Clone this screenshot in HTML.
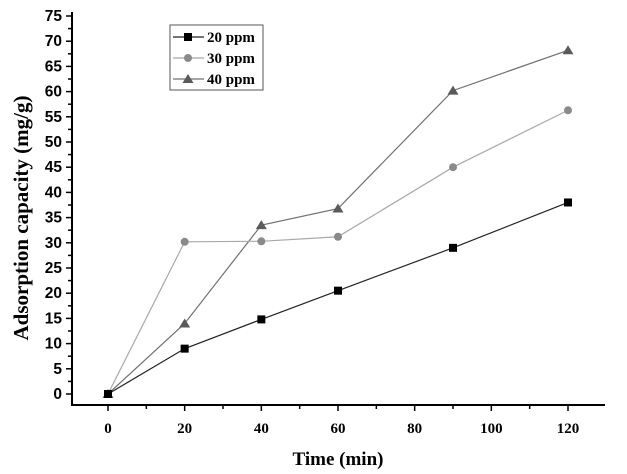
<!DOCTYPE html>
<html><head><meta charset="utf-8"><style>
body{margin:0;background:#fff;width:627px;height:474px;overflow:hidden}
svg{display:block}
</style></head><body>
<svg id="c" width="627" height="474" xmlns="http://www.w3.org/2000/svg"></svg>
<script>
const xValues=[0,20,40,60,90,120];
const s20=[0,9,14.8,20.5,29,38];
const s30=[0,30.2,30.3,31.2,45,56.3];
const s40=[0,14,33.5,36.8,60.2,68.2];
const xTicks=[0,20,40,60,80,100,120];
const yTicks=[0,5,10,15,20,25,30,35,40,45,50,55,60,65,70,75];
const seriesNames=["20 ppm","30 ppm","40 ppm"];

const svg=document.getElementById('c');
const NS='http://www.w3.org/2000/svg';
const X=v=>108+(v)*(568-108)/120;
const Y=v=>394-v*(394-16)/75;
function el(t,a,p){const e=document.createElementNS(NS,t);for(const k in a)e.setAttribute(k,a[k]);(p||svg).appendChild(e);return e;}
const axL=72,axB=405,axR=605,axT=12;
let a=el('line',{x1:axL,y1:axB,x2:axR,y2:axB,stroke:'#000','stroke-width':2});


a=el('line',{x1:axL,y1:axB+1,x2:axL,y2:axT,stroke:'#000','stroke-width':2});


for(let v=-10;v<=130;v+=10){const x=X(v);if(x<axL||x>axR+1)continue;const major=v%20===0;
 el('line',{x1:x,y1:axB,x2:x,y2:axB+(major?6:4),stroke:'#000','stroke-width':1.5});}
xTicks.forEach(v=>{const t=el('text',{x:X(v),y:433,'text-anchor':'middle','font-family':'Liberation Serif, serif','font-weight':'bold','font-size':15});t.textContent=v;
 
 });
for(let v=-2.5;v<=75;v+=2.5){const y=Y(v);if(y>axB)continue;const major=v%5===0;
 el('line',{x1:axL,y1:y,x2:axL-(major?6:4),y2:y,stroke:'#000','stroke-width':1.5});}
yTicks.forEach(v=>{const t=el('text',{x:62,y:Y(v)+5,'text-anchor':'end','font-family':'Liberation Sans, sans-serif','font-weight':'bold','font-size':15.5});t.textContent=v;
 
 });
let t=el('text',{x:338,y:465,'text-anchor':'middle','font-family':'Liberation Serif, serif','font-weight':'bold','font-size':19});t.textContent='Time (min)';


t=el('text',{x:0,y:0,transform:'translate(28,218) rotate(-90)','text-anchor':'middle','font-family':'Liberation Serif, serif','font-weight':'bold','font-size':21});t.textContent='Adsorption capacity (mg/g)';



function marker(kind,x,y,color,parent){
 if(kind==='sq')return el('rect',{x:x-4,y:y-4,width:8,height:8,fill:color},parent);
 if(kind==='ci')return el('circle',{cx:x,cy:y,r:4,fill:color},parent);
 return el('polygon',{points:`${x},${y-5} ${x+5.5},${y+4} ${x-5.5},${y+4}`,fill:color},parent);
}
const series=[[s40,'#707070','#5a5a5a','tr'],[s30,'#a8a8a8','#8a8a8a','ci'],[s20,'#222','#000','sq']];
const names=['series-40-ppm','series-30-ppm','series-20-ppm'];
series.forEach((s,i)=>{
 const g=el('g',{});
 
 
 el('polyline',{points:xValues.map((x,j)=>X(x)+','+Y(s[0][j])).join(' '),fill:'none',stroke:s[1],'stroke-width':1.2},g);
 xValues.forEach((x,j)=>{const m=marker(s[3],X(x),Y(s[0][j]),s[2],g);
  
  });
});
const lg=el('g',{});


el('rect',{x:170,y:25,width:93,height:65,fill:'#fff',stroke:'#555','stroke-width':1},lg);
const lgs=[['sq','#000','#222'],['ci','#8a8a8a','#a8a8a8'],['tr','#5a5a5a','#707070']];
seriesNames.forEach((n,i)=>{const y=37+i*21;
 const e=el('g',{},lg);
 
 
 el('line',{x1:173,y1:y,x2:204,y2:y,stroke:lgs[i][2],'stroke-width':1.2},e);
 marker(lgs[i][0],188,y,lgs[i][1],e);
 const tt=el('text',{x:207,y:y+5,'font-family':'Liberation Serif, serif','font-weight':'bold','font-size':15},e);tt.textContent=n;});
</script>
</body></html>
